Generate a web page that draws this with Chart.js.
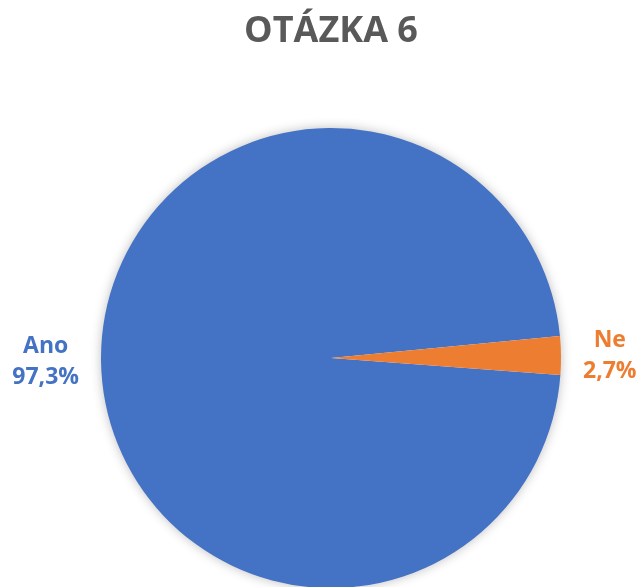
<!DOCTYPE html>
<html>
<head>
<meta charset="utf-8">
<script src="https://cdn.jsdelivr.net/npm/chart.js@4/dist/chart.umd.min.js"></script>
<style>
html,body{margin:0;padding:0;background:#fff;}
canvas{display:block;}
</style>
</head>
<body>
<canvas id="c" width="637" height="587"></canvas>
<script>
const categories = ["Ano", "Ne"];
const values = [97.3, 2.7];
const colors = ["#4472C4", "#ED7D31"];
const titleText = "OTÁZKA 6";

function fmt(v){ return v.toFixed(1).replace('.', ',') + '%'; }

const shadowPlugin = {
  id: 'pieShadow',
  beforeDatasetsDraw(chart) {
    const arc = chart.getDatasetMeta(0).data[0];
    if (!arc) return;
    const ctx = chart.ctx;
    ctx.save();
    ctx.shadowColor = 'rgba(0,0,0,0.30)';
    ctx.shadowBlur = 12;
    ctx.fillStyle = '#ffffff';
    ctx.beginPath();
    ctx.arc(arc.x, arc.y, arc.outerRadius - 1, 0, Math.PI * 2);
    ctx.fill();
    ctx.restore();
  }
};

const labelPlugin = {
  id: 'outLabels',
  afterDatasetsDraw(chart) {
    const ctx = chart.ctx;
    const meta = chart.getDatasetMeta(0);
    ctx.save();
    ctx.font = 'bold 23px "Open Sans"';
    ctx.textBaseline = 'middle';
    ctx.textAlign = 'center';
    meta.data.forEach((arc, i) => {
      const mid = (arc.startAngle + arc.endAngle) / 2;
      const lines = [categories[i], fmt(values[i])];
      const w = Math.max(...lines.map(l => ctx.measureText(l).width));
      const gap = 22;
      const cosA = Math.cos(mid), sinA = Math.sin(mid);
      const ex = arc.x + cosA * (arc.outerRadius + gap);
      const ey = arc.y + sinA * (arc.outerRadius + gap);
      const cx = ex + (cosA >= 0 ? w / 2 : -w / 2);
      const lh = 31;
      ctx.fillStyle = colors[i];
      lines.forEach((l, k) => {
        ctx.fillText(l, cx, ey + (k - (lines.length - 1) / 2) * lh + 1);
      });
    });
    ctx.restore();
  }
};

new Chart(document.getElementById('c'), {
  type: 'pie',
  data: {
    labels: categories,
    datasets: [{
      data: values,
      backgroundColor: colors,
      borderWidth: 0
    }]
  },
  options: {
    responsive: false,
    animation: false,
    rotation: 94.2,
    radius: 230,
    layout: { padding: { left: 25, right: 0, top: 0, bottom: 0 } },
    plugins: {
      legend: { display: false },
      tooltip: { enabled: false },
      title: {
        display: true,
        text: titleText,
        color: '#595959',
        font: { family: '"Open Sans"', size: 36, weight: 'bold', lineHeight: 1.2 },
        padding: { top: 10, bottom: 76 }
      }
    }
  },
  plugins: [shadowPlugin, labelPlugin]
});
</script>
</body>
</html>
